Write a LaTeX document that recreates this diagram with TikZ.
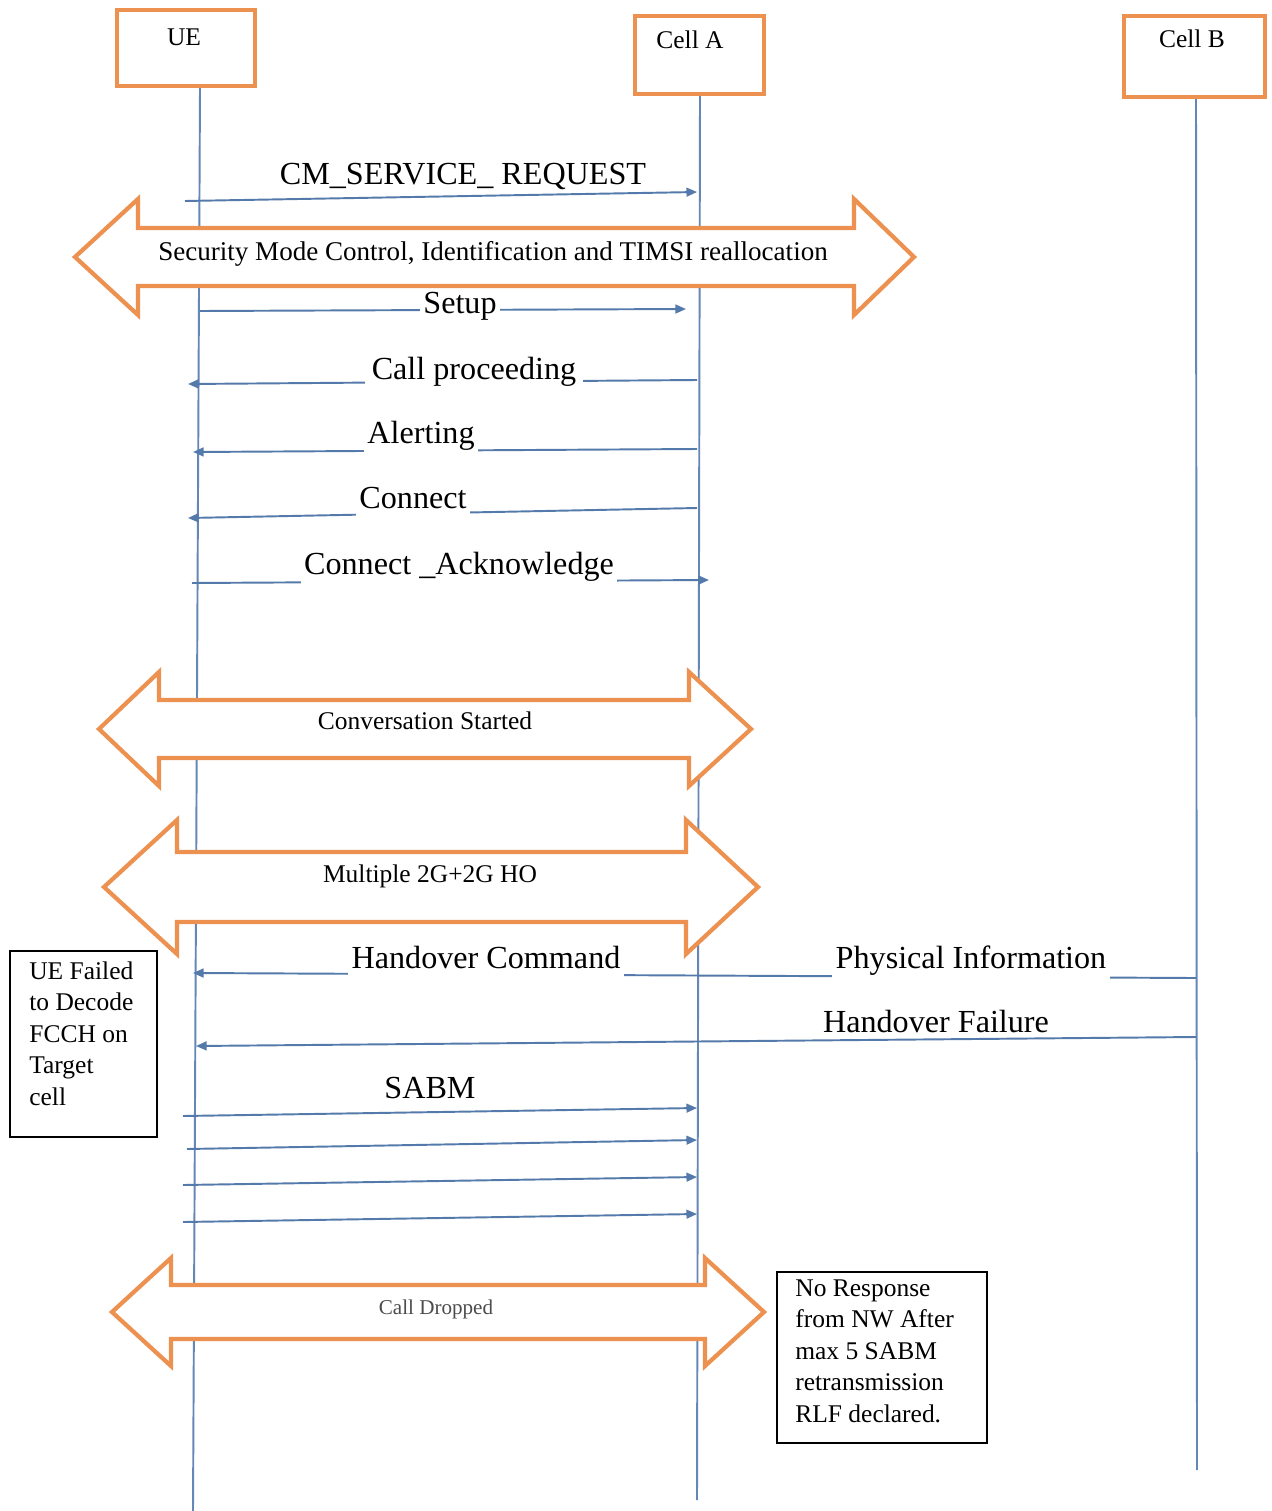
\documentclass[tikz,border=0pt]{standalone}
\usepackage{fontspec}
\setmainfont{Liberation Serif}
\usetikzlibrary{arrows.meta}

\definecolor{boxorange}{RGB}{237,145,80}
\definecolor{msgblue}{RGB}{84,122,172}
\definecolor{lifeblue}{RGB}{100,135,182}

% wide two-headed block arrow:
% #1 left tip x, #2 left head base x, #3 right head base x, #4 right tip x,
% #5 centre y, #6 half body height, #7 half head height
\newcommand{\fatarrow}[7]{%
  \draw[fatarr] (#1,#5) -- (#2,#5-#7) -- (#2,#5-#6) -- (#3,#5-#6) -- (#3,#5-#7)
    -- (#4,#5) -- (#3,#5+#7) -- (#3,#5+#6) -- (#2,#5+#6) -- (#2,#5+#7) -- cycle;}

\begin{document}
\begin{tikzpicture}[x=0.02cm,y=-0.02cm,
  headbox/.style={draw=boxorange, line width=2.4pt, fill=white, inner sep=0pt},
  headlbl/.style={font=\fontsize{14.5}{17}\selectfont, anchor=base, inner sep=0pt},
  life/.style={draw=lifeblue, line width=1.1pt},
  msg/.style={draw=msgblue, line width=1.1pt, -{Triangle[length=6pt,width=5pt]}},
  msglbl/.style={font=\fontsize{18.3}{21}\selectfont, anchor=base, inner xsep=2pt, inner ysep=0pt},
  gaplbl/.style={msglbl, fill=white, text depth=8pt},
  fatarr/.style={draw=boxorange, line width=2.4pt, fill=white, line join=miter},
  fatlbl/.style={font=\fontsize{14.5}{17}\selectfont, anchor=base, inner sep=0pt},
  notebox/.style={draw=black, line width=1.1pt, fill=white, inner sep=0pt},
  notetext/.style={font=\fontsize{14.5}{18}\selectfont, align=left, anchor=north west, inner sep=0pt}
]
\fill[white] (0,0) rectangle (1271,1511);
\useasboundingbox (0,0) rectangle (1271,1511);

% lifelines
\coordinate (ueTop) at (200,88);   \coordinate (ueBot) at (193,1511);
\coordinate (caTop) at (700,96);   \coordinate (caBot) at (697,1500);
\coordinate (cbTop) at (1196,99);  \coordinate (cbBot) at (1197,1470);
\draw[life] (ueTop) -- (ueBot);
\draw[life] (caTop) -- (caBot);
\draw[life] (cbTop) -- (cbBot);

% entity boxes
\node[headbox, minimum width=2.76cm, minimum height=1.52cm] (ue) at (186,48) {};
\node[headlbl] (uelbl) at (184,45) {UE};
\node[headbox, minimum width=2.58cm, minimum height=1.56cm] (cellA) at (699.5,55) {};
\node[headlbl] (cellAlbl) at (690,48.5) {Cell A};
\node[headbox, minimum width=2.82cm, minimum height=1.62cm] (cellB) at (1194.5,56.5) {};
\node[headlbl] (cellBlbl) at (1192,47) {Cell B};

% message end points
\coordinate (cmS) at (185,201);     \coordinate (cmE) at (697,192);
\coordinate (suS) at (200,311);     \coordinate (suE) at (686,309);
\coordinate (cpS) at (697,380);     \coordinate (cpE) at (188,384);
\coordinate (alS) at (697,449);     \coordinate (alE) at (193,452);
\coordinate (coS) at (697,508);     \coordinate (coE) at (188,518);
\coordinate (caS) at (192,583);     \coordinate (caE) at (709,580);
\coordinate (hcS) at (1196,978);    \coordinate (hcE) at (193,973);
\coordinate (hfS) at (1196,1037);   \coordinate (hfE) at (196,1046);
\coordinate (sa1S) at (183,1116);   \coordinate (sa1E) at (697,1108);
\coordinate (sa2S) at (187,1149);   \coordinate (sa2E) at (697,1140);
\coordinate (sa3S) at (183,1185);   \coordinate (sa3E) at (697,1177);
\coordinate (sa4S) at (183,1222);   \coordinate (sa4E) at (697,1214);

% messages
\draw[msg] (cmS) -- (cmE);
\draw[msg] (suS) -- (suE);
\draw[msg] (cpS) -- (cpE);
\draw[msg] (alS) -- (alE);
\draw[msg] (coS) -- (coE);
\draw[msg] (caS) -- (caE);
\draw[msg] (hcS) -- (hcE);
\draw[msg] (hfS) -- (hfE);
\draw[msg] (sa1S) -- (sa1E);
\draw[msg] (sa2S) -- (sa2E);
\draw[msg] (sa3S) -- (sa3E);
\draw[msg] (sa4S) -- (sa4E);

% message labels
\node[msglbl] (cmL) at (463,184) {CM\_SERVICE\_ REQUEST};
\node[gaplbl] (suL) at (460,313.5) {Setup};
\node[gaplbl, inner xsep=4pt] (cpL) at (474,379) {Call proceeding\hspace{12pt}};
\node[gaplbl] (alL) at (421,443) {Alerting};
\node[gaplbl] (coL) at (413,508) {Connect};
\node[gaplbl] (caL) at (459,574) {Connect \_Acknowledge};
\node[gaplbl] (hcL) at (486,968) {Handover Command};
\node[gaplbl] (piL) at (971,968) {Physical Information};
\node[msglbl] (hfL) at (936,1032) {Handover Failure};
\node[msglbl] (saL) at (430,1098) {SABM};

% procedure phases
\fatarrow{75}{138}{854}{914}{257}{29}{58}
\node[fatlbl, font=\fontsize{15.4}{18}\selectfont] (secL) at (493,260) {Security Mode Control, Identification and TIMSI reallocation};
\fatarrow{99}{159}{689}{751}{729}{29}{57}
\node[fatlbl] (convL) at (425,729) {Conversation Started};
\fatarrow{104}{177}{686}{758}{887}{35}{67}
\node[fatlbl] (hoL) at (430,882) {Multiple 2G+2G HO};
\fatarrow{112}{171}{705}{764}{1312}{27}{54}
\node[fatlbl, font=\fontsize{12}{14}\selectfont, text=black!70] (dropL) at (436,1314) {Call Dropped};

% notes
\node[notebox, minimum width=2.94cm, minimum height=3.72cm] (failbox) at (83.5,1044) {};
\node[notetext] (failtxt) at (29,961) {UE Failed\\to Decode\\FCCH on\\Target\\cell};
\node[notebox, minimum width=4.2cm, minimum height=3.42cm] (rlfbox) at (882,1357.5) {};
\node[notetext] (rlftxt) at (795,1279) {No Response\\from NW After\\max 5 SABM\\retransmission\\RLF declared.};
\end{tikzpicture}
\end{document}
